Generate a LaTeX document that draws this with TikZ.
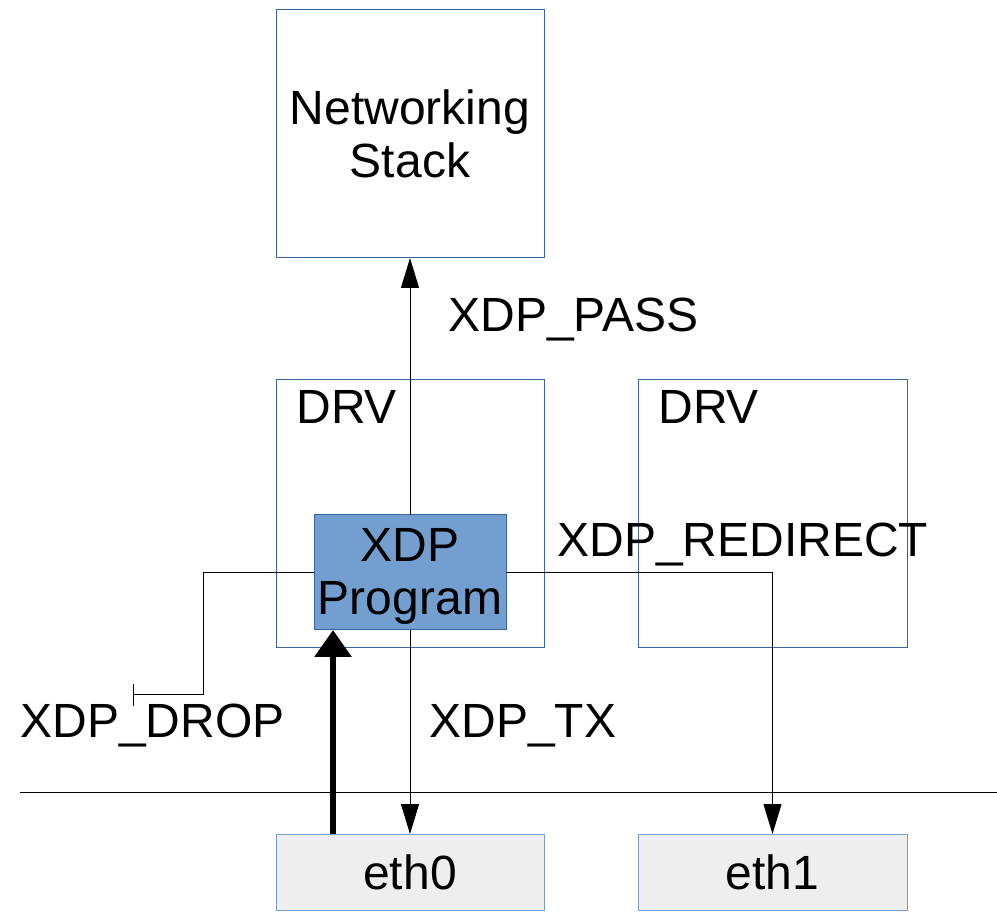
\documentclass[tikz,border=0pt]{standalone}
\usepackage{fontspec}
\setmainfont{Liberation Sans}
\usetikzlibrary{arrows.meta,calc}
\definecolor{boxline}{HTML}{3465A4}
\definecolor{progfill}{HTML}{729FCF}
\definecolor{ethfill}{HTML}{EEEEEE}
\definecolor{ethline}{HTML}{729FCF}
\begin{document}
\begin{tikzpicture}[x=0.5pt,y=-0.5pt,
  txt/.style={font=\fontsize{24}{26.5}\selectfont},
  box/.style={draw=boxline,line width=0.5pt,inner sep=0pt,outer sep=0pt,txt,align=center},
  progbox/.style={box,fill=progfill,minimum width=96pt,minimum height=57.5pt},
  ethbox/.style={box,draw=ethline,fill=ethfill,minimum width=134pt,minimum height=38pt},
  flow/.style={line width=0.5pt,-{Triangle[length=15pt,width=9pt]}},
  inflow/.style={line width=3pt,-{Triangle[length=13.5pt,width=18pt]}},
  dropflow/.style={line width=0.5pt,-{Bar[width=11pt,line width=0.6pt]}},
  lbl/.style={txt,inner sep=0pt,anchor=base west}]
\useasboundingbox (0,0) rectangle (997,914);

% stack and driver boxes
\node[box,minimum width=134pt,minimum height=124pt] (stack) at (410,134) {Networking\\Stack};
\node[box,minimum width=134pt,minimum height=134pt] (drv0) at (410,514) {};
\node[box,minimum width=134.5pt,minimum height=134pt] (drv1) at (772.5,514) {};
\node[lbl] (drv0lbl) at (296,424) {DRV};
\node[lbl] (drv1lbl) at (658,424) {DRV};

% interfaces
\node[ethbox] (eth0) at (410,872) {eth0};
\node[ethbox,minimum width=134.5pt] (eth1) at (772.5,872) {eth1};

% wire line
\coordinate (wireL) at (20,792);
\coordinate (wireR) at (997,792);
\draw[line width=0.5pt] (wireL) -- (wireR);

% the XDP program
\node[progbox] (prog) at (410,572.5) {\rule{0pt}{20pt}XDP\\Program};

% actions
\draw[flow] (prog.north) -- (stack.south);
\draw[flow] (prog.south) -- (eth0.north);
\draw[flow] (prog.east) -| (eth1.north);
\coordinate (dropcorner) at (203,695);
\coordinate (dropend) at (133,695);
\draw[dropflow] (prog.west) -| (dropcorner) -- (dropend);

% incoming packets
\draw[inflow] ($(eth0.north)+(-77,0)$) -- ($(prog.south)+(-77,0)$);

% action labels
\node[lbl] (passlbl) at (448,332) {XDP\_PASS};
\node[lbl] (redirlbl) at (557,557) {XDP\_REDIRECT};
\node[lbl] (droplbl) at (20,738) {XDP\_DROP};
\node[lbl] (txlbl) at (429,738) {XDP\_TX};
\end{tikzpicture}
\end{document}
